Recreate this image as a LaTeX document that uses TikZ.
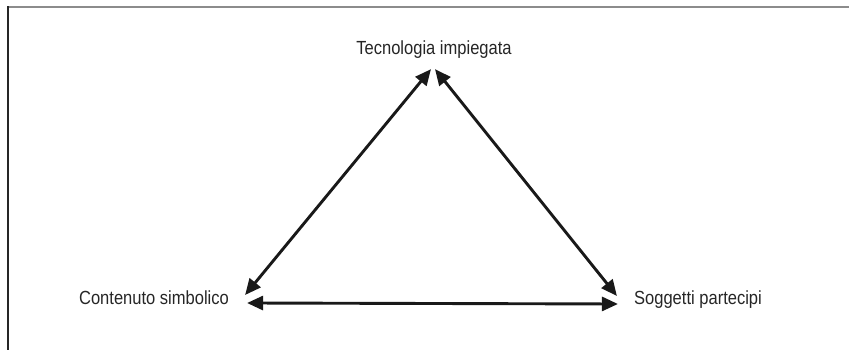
\documentclass[tikz,border=0pt]{standalone}
\usepackage{fontspec}
\usepackage{tikz}
\usetikzlibrary{arrows.meta}
\newfontfamily\labelfont[FakeStretch=0.87]{Liberation Sans}
\definecolor{framegray}{HTML}{8C8C8C}

\begin{document}
\begin{tikzpicture}[x=1pt,y=1pt,>={Triangle[length=16pt,width=14pt]},
    every node/.style={font=\labelfont\fontsize{19}{22}\selectfont, text=black!85, inner sep=0pt},
    link/.style={<->, line width=2.9pt, draw=black!90}]
      \useasboundingbox (0,0) rectangle (849,350);
      % frame
      \draw[framegray, line width=2pt] (8,342.5) -- (849,342.5);
      \draw[black!85, line width=1.5pt] (8,343.5) -- (8,0);

      \node[anchor=base] (tec) at (434,295) {Tecnologia impiegata};
      \node[anchor=base] (cont) at (154,45) {Contenuto simbolico};
      \node[anchor=base] (sogg) at (698,45) {Soggetti partecipi};

      \draw[link] ([shift={(16,10)}]cont.base east) -- ([shift={(-3,-10)}]tec.south);
      \draw[link] ([shift={(1,-10)}]tec.south) -- ([shift={(-17,9)}]sogg.base west);
      \draw[link] ([shift={(18,2)}]cont.base east) -- ([shift={(-16,1)}]sogg.base west);
    \end{tikzpicture}
\end{document}
